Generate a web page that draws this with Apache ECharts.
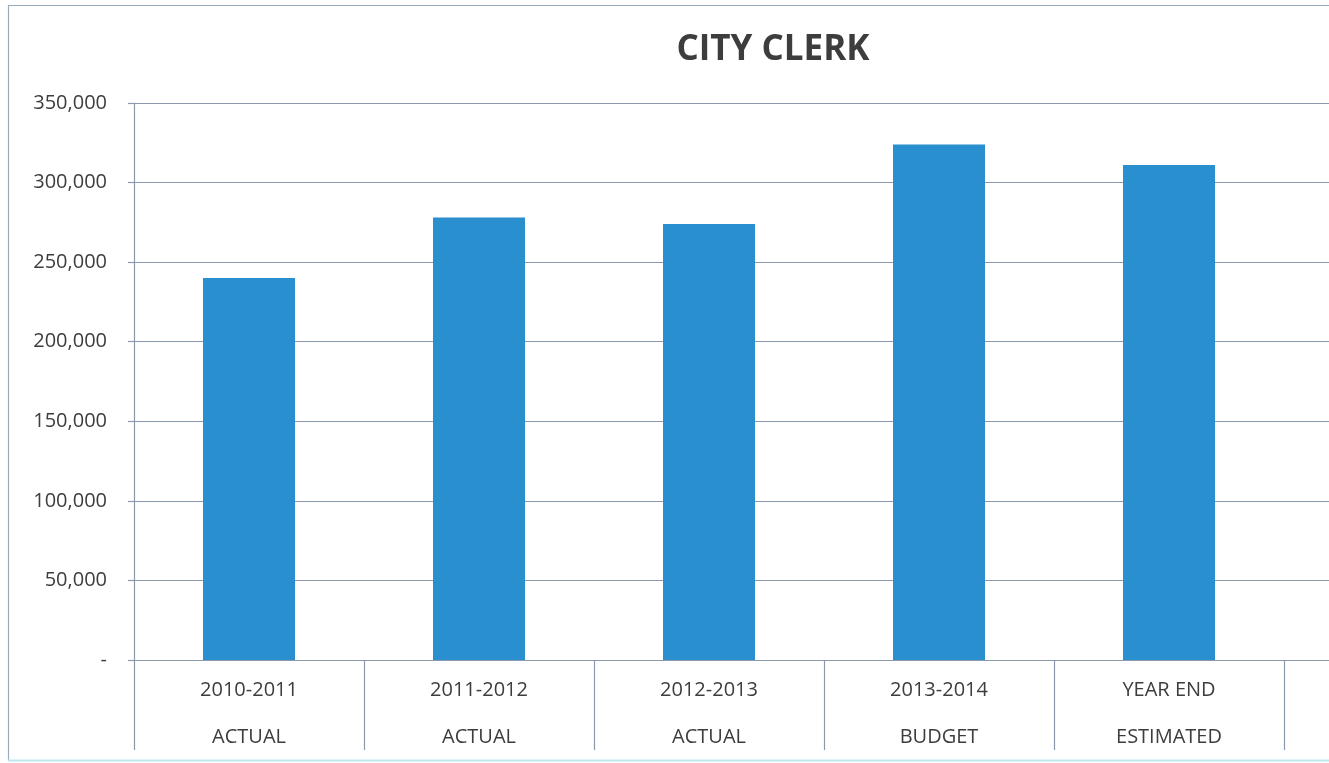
<!DOCTYPE html>
<html>
<head>
<meta charset="utf-8">
<title>City Clerk</title>
<script src="https://cdn.jsdelivr.net/npm/echarts@6/dist/echarts.min.js"></script>
<style>
  html, body { margin: 0; padding: 0; background: #ffffff; }
  #chart { width: 1329px; height: 763px; }
</style>
</head>
<body>
<div id="chart"></div>
<script>
// Fiscal periods (two-line labels); the sixth slot is an empty trailing column
const periods = ['2010-2011', '2011-2012', '2012-2013', '2013-2014', 'YEAR END', ''];
const periodTypes = ['ACTUAL', 'ACTUAL', 'ACTUAL', 'BUDGET', 'ESTIMATED', ''];
// Department expenditures
const expenditures = [240000, 278000, 274000, 324000, 311000, null];
// Value axis settings
const yMax = 350000;
const yStep = 50000;

const categories = periods.map((p, i) => p ? p + '\n' + periodTypes[i] : '');

const textColor = '#3d3d3d';
const lineColor = '#8a99ad';
const fontFamily = '"Open Sans", Lato, sans-serif';

const chart = echarts.init(document.getElementById('chart'), null, { renderer: 'canvas' });

chart.setOption({
  animation: false,
  backgroundColor: '#ffffff',
  title: {
    text: 'CITY CLERK',
    left: 768,
    top: 28,
    textAlign: 'center',
    textStyle: {
      color: textColor,
      fontFamily: fontFamily,
      fontWeight: 'bold',
      fontSize: 35
    }
  },
  graphic: [
    {
      type: 'rect',
      silent: true,
      shape: { x: 8.5, y: 5.5, width: 1400, height: 755 },
      style: { fill: 'none', stroke: '#9aabbd', lineWidth: 1.2 }
    },
    {
      type: 'line',
      silent: true,
      shape: { x1: 8, y1: 760.5, x2: 1329, y2: 760.5 },
      style: { stroke: '#bde6ef', lineWidth: 2 }
    }
  ],
  grid: {
    left: 134,
    top: 103,
    width: 1380,
    height: 557,
    containLabel: false,
    outerBoundsMode: 'none'
  },
  xAxis: {
    type: 'category',
    data: categories,
    boundaryGap: true,
    axisLine: { show: true, lineStyle: { color: lineColor, width: 1.2 } },
    axisTick: {
      show: true,
      length: 90,
      alignWithLabel: false,
      lineStyle: { color: lineColor, width: 1.2 }
    },
    axisLabel: {
      color: textColor,
      fontFamily: fontFamily,
      fontSize: 20,
      lineHeight: 47,
      margin: 7,
      interval: 0
    },
    splitLine: { show: false }
  },
  yAxis: {
    type: 'value',
    min: 0,
    max: yMax,
    interval: yStep,
    axisLine: { show: true, lineStyle: { color: lineColor, width: 1.2 } },
    axisTick: { show: true, length: 6, lineStyle: { color: lineColor, width: 1.2 } },
    axisLabel: {
      color: textColor,
      fontFamily: fontFamily,
      fontSize: 20,
      margin: 27,
      formatter: v => v === 0 ? '-' : v.toLocaleString('en-US')
    },
    splitLine: { show: true, lineStyle: { color: lineColor, width: 1.2 } }
  },
  series: [
    {
      type: 'bar',
      data: expenditures,
      barWidth: '40%',
      itemStyle: { color: '#2a8fcf' }
    }
  ]
});
</script>
</body>
</html>
